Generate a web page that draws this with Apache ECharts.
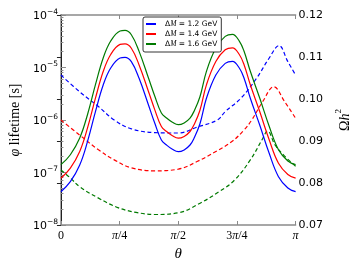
<!DOCTYPE html>
<html><head><meta charset="utf-8">
<script src="https://cdn.jsdelivr.net/npm/echarts@6/dist/echarts.min.js"></script>
<style>html,body{margin:0;padding:0;background:#fff}#c{width:360px;height:270px}</style>
</head><body><div id="c"></div>
<script>
// θ in units of π
const xTickLabels = ['0', 'π/4', 'π/2', '3π/4', 'π'];
const legendNames = ['ΔM = 1.2 GeV', 'ΔM = 1.4 GeV', 'ΔM = 1.6 GeV'];
const colors = ['#0000ff', '#ff0000', '#007a00'];

// φ lifetime [s] (left log axis, solid)
const thetaLife = [0,0.04,0.08,0.113,0.147,0.18,0.212,0.252,0.273,0.30,0.333,0.373,0.40,0.428,0.45,0.475,0.50,0.525,0.55,0.567,0.592,0.62,0.66,0.70,0.731,0.76,0.78,0.807,0.847,0.887,0.927,0.967,1.0];
const lifeM12 = [4.31e-8,6.68e-8,1.39e-7,3.86e-7,1.44e-6,4.64e-6,9.78e-6,1.52e-5,1.56e-5,1.29e-5,6.22e-6,1.93e-6,8.65e-7,4.16e-7,3.34e-7,2.77e-7,2.49e-7,2.69e-7,3.34e-7,4.48e-7,8.39e-7,2.59e-6,7.20e-6,1.20e-5,1.31e-5,9.78e-6,6.31e-6,2.59e-6,8.03e-7,2.35e-7,8.32e-8,5.07e-8,4.31e-8];
const lifeM14 = [7.79e-8,1.21e-7,2.51e-7,6.98e-7,2.60e-6,8.38e-6,1.77e-5,2.75e-5,2.82e-5,2.33e-5,1.12e-5,3.49e-6,1.56e-6,7.52e-7,6.04e-7,5.01e-7,4.50e-7,4.86e-7,6.04e-7,8.10e-7,1.52e-6,4.68e-6,1.30e-5,2.17e-5,2.37e-5,1.77e-5,1.14e-5,4.68e-6,1.45e-6,4.25e-7,1.50e-7,9.16e-8,7.79e-8];
const lifeM16 = [1.41e-7,2.18e-7,4.54e-7,1.26e-6,4.70e-6,1.52e-5,3.19e-5,4.96e-5,5.09e-5,4.21e-5,2.03e-5,6.30e-6,2.83e-6,1.36e-6,1.09e-6,9.05e-7,8.13e-7,8.79e-7,1.09e-6,1.46e-6,2.74e-6,8.46e-6,2.35e-5,3.92e-5,4.28e-5,3.19e-5,2.06e-5,8.46e-6,2.62e-6,7.68e-7,2.72e-7,1.66e-7,1.41e-7];

// Ωh² (right axis, dashed)
const thetaOmega12 = [0,0.08,0.16,0.227,0.30,0.40,0.50,0.58,0.667,0.70,0.767,0.833,0.887,0.929,0.967,1.0];
const omegaM12 = [0.1057,0.1017,0.0982,0.0950,0.0929,0.0920,0.0919,0.0933,0.0950,0.0970,0.1002,0.1049,0.1097,0.1127,0.1089,0.1057];
const thetaOmega14 = [0,0.08,0.16,0.227,0.30,0.40,0.50,0.58,0.66,0.727,0.78,0.813,0.86,0.907,0.953,1.0];
const omegaM14 = [0.0950,0.0914,0.0879,0.0855,0.0836,0.0829,0.0833,0.0851,0.0875,0.0898,0.0926,0.0950,0.0994,0.1029,0.0994,0.0954];
const thetaOmega16 = [0,0.04,0.08,0.16,0.24,0.32,0.40,0.50,0.593,0.673,0.74,0.807,0.86,0.88,0.913,0.953,1.0];
const omegaM16 = [0.0831,0.0812,0.0791,0.0764,0.0742,0.0730,0.0725,0.0729,0.0752,0.0779,0.0807,0.0855,0.0906,0.0924,0.0890,0.0864,0.0840];

const zip = (xs, ys) => xs.map((x, i) => [x, ys[i]]);
const minorTicks = [];
for (let e = -8; e <= -5; e++) for (let m = 2; m <= 9; m++) minorTicks.push(m * Math.pow(10, e));

const gray = '#8a8a8a';
const serif = 'Liberation Serif';
const sans = 'DejaVu Sans';

const lifeSets = [lifeM12, lifeM14, lifeM16];
const omegaSets = [[thetaOmega12, omegaM12], [thetaOmega14, omegaM14], [thetaOmega16, omegaM16]];

const series = [];
omegaSets.forEach((s, i) => {
  series.push({
    name: 'Ωh² ' + i, type: 'line', xAxisIndex: 0, yAxisIndex: 1,
    data: zip(s[0], s[1]), symbol: 'none', smooth: 0.4,
    lineStyle: { color: colors[i], width: 1.2, type: [4, 2.6] }, itemStyle: { color: colors[i] },
    silent: true, z: 2
  });
});
lifeSets.forEach((d, i) => {
  series.push({
    name: legendNames[i], type: 'line', xAxisIndex: 0, yAxisIndex: 0,
    data: zip(thetaLife, d), symbol: 'none', smooth: 0.4,
    lineStyle: { color: colors[i], width: 1.2 }, itemStyle: { color: colors[i] },
    silent: true, z: 3
  });
});

const chart = echarts.init(document.getElementById('c'), null, { renderer: 'canvas' });
chart.setOption({
  animation: false,
  backgroundColor: '#fff',
  grid: { left: 55, right: 55, top: 15, bottom: 45, containLabel: false },
  legend: {
    data: legendNames, orient: 'vertical', left: 143, top: 17,
    padding: [2, 4, 3, 3], itemGap: 0, itemWidth: 10, itemHeight: 2, icon: 'rect',
    borderColor: '#000', borderWidth: 0.8, borderRadius: 2, backgroundColor: '#fff',
    textStyle: {
      fontSize: 7.5, fontFamily: sans, color: '#000', lineHeight: 10,
      rich: {
        n: { fontSize: 7.5, fontFamily: sans, lineHeight: 10 },
        p: { fontSize: 7.5, fontFamily: sans, lineHeight: 10, padding: [0, 0, 0, 4] },
        i: { fontSize: 7.5, fontFamily: serif, fontStyle: 'italic', lineHeight: 10 }
      }
    },
    formatter: name => '{p|Δ}{i|M}{n| ' + name.split('M ')[1] + '}'
  },
  xAxis: [{
    type: 'value', position: 'bottom', min: 0, max: 1, interval: 0.25,
    axisLine: { lineStyle: { color: gray, width: 1.5 } },
    axisTick: { inside: true, length: 4, lineStyle: { color: gray } },
    splitLine: { show: false },
    axisLabel: {
      margin: 5, color: '#000',
      formatter: v => {
        const s = xTickLabels[Math.round(v * 4)];
        return '{u|' + s.split('π').join('}{i|π}{u|') + '}';
      },
      rich: {
        u: { fontSize: 12, fontFamily: serif, color: '#000' },
        i: { fontSize: 12, fontFamily: serif, fontStyle: 'italic', color: '#000' }
      }
    },
    name: 'θ', nameLocation: 'middle', nameGap: 17,
    nameTextStyle: { fontSize: 15, fontFamily: serif, fontStyle: 'italic', color: '#000' }
  }, {
    type: 'value', position: 'top', min: 0, max: 1, interval: 0.25,
    axisLine: { lineStyle: { color: gray, width: 1.5 } },
    axisTick: { inside: true, length: 4, lineStyle: { color: gray } },
    axisLabel: { show: false }, splitLine: { show: false }
  }],
  yAxis: [{
    type: 'log', logBase: 10, min: 1e-8, max: 1e-4, position: 'left',
    axisLine: { show: true, lineStyle: { color: gray, width: 1.5 } },
    axisTick: { show: true, inside: true, length: 5, lineStyle: { color: gray } },
    splitLine: { show: false },
    axisLabel: {
      margin: 3, color: '#000',
      formatter: v => '{b|10}{s|−' + Math.abs(Math.round(Math.log10(v))) + '}',
      rich: {
        b: { fontSize: 11, fontFamily: sans, color: '#000', lineHeight: 14, verticalAlign: 'bottom' },
        s: { fontSize: 7.5, fontFamily: sans, color: '#000', verticalAlign: 'top' }
      }
    },
    name: '{i|φ}{r| lifetime [s]}', nameLocation: 'middle', nameGap: 30, nameRotate: 90,
    nameTextStyle: {
      color: '#000',
      rich: {
        i: { fontSize: 14, fontFamily: serif, fontStyle: 'italic' },
        r: { fontSize: 14, fontFamily: serif }
      }
    }
  }, {
    type: 'value', min: 0.07, max: 0.12, interval: 0.01, position: 'right',
    axisLine: { show: true, lineStyle: { color: '#222', width: 1 } },
    axisTick: { show: true, inside: true, length: 4, lineStyle: { color: '#222' } },
    splitLine: { show: false },
    axisLabel: { margin: 3, color: '#000', fontSize: 11, fontFamily: sans, formatter: v => v.toFixed(2) },
    name: '{o|Ω}{i|h}{s|2}', nameLocation: 'middle', nameGap: 33, nameRotate: 90,
    nameTextStyle: {
      color: '#000',
      rich: {
        o: { fontSize: 14, fontFamily: serif, lineHeight: 18, verticalAlign: 'bottom' },
        i: { fontSize: 14, fontFamily: serif, fontStyle: 'italic', lineHeight: 18, verticalAlign: 'bottom' },
        s: { fontSize: 9, fontFamily: serif, verticalAlign: 'top' }
      }
    }
  }, {
    type: 'log', logBase: 10, min: 1e-8, max: 1e-4, position: 'left',
    axisLine: { show: false }, axisLabel: { show: false }, splitLine: { show: false },
    axisTick: { show: true, inside: true, length: 2.5, customValues: minorTicks, lineStyle: { color: gray } }
  }],
  series: series
});
</script>
</body></html>
